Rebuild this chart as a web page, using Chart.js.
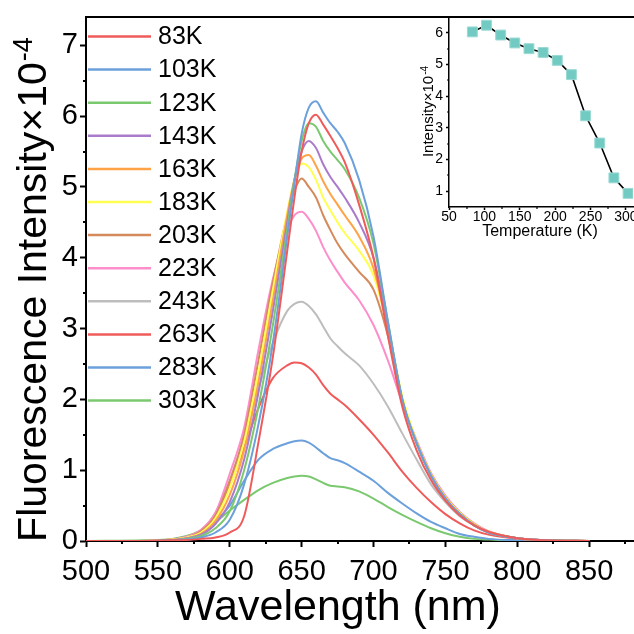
<!DOCTYPE html>
<html>
<head>
<meta charset="utf-8">
<script src="https://cdn.jsdelivr.net/npm/chart.js@4.4.1/dist/chart.umd.min.js"></script>
<style>
  html, body { margin: 0; padding: 0; background: #fff; overflow: hidden; width: 634px; height: 634px; }
  #wrap { position: relative; width: 680px; height: 634px; }
  #main { position: absolute; left: 0; top: 0; }
  #inset { position: absolute; left: 400px; top: 0; }
</style>
</head>
<body>
<div id="wrap">
  <canvas id="main" width="680" height="634"></canvas>
  <canvas id="inset" width="270" height="250"></canvas>
</div>
<script>
// wavelength grid (nm)
const wavelengths = [500, 540, 560, 570, 580, 590, 600, 610, 620, 630, 640, 645, 650, 655, 660, 665, 670, 675, 680, 690, 700, 710, 720, 730, 740, 750, 760, 770, 780, 800, 820, 850];

// spectra, intensity x10^-4
const s83K  = [0, 0, 0.01, 0.015, 0.03, 0.05, 0.12, 0.35, 1.4, 2.6, 4.1, 4.85, 5.5, 5.9, 6.02, 5.88, 5.72, 5.55, 5.35, 4.75, 4.0, 2.9, 1.9, 1.28, 0.86, 0.57, 0.36, 0.22, 0.13, 0.04, 0.01, 0];
const s103K = [0, 0, 0.01, 0.02, 0.05, 0.12, 0.3, 0.8, 1.65, 2.8, 4.3, 5.05, 5.75, 6.12, 6.21, 6.05, 5.9, 5.78, 5.62, 5.1, 4.3, 3.1, 2.0, 1.38, 0.92, 0.6, 0.38, 0.22, 0.12, 0.04, 0.01, 0];
const s123K = [0, 0, 0.01, 0.03, 0.07, 0.18, 0.42, 1.0, 1.9, 3.05, 4.4, 5.1, 5.65, 5.9, 5.85, 5.65, 5.5, 5.38, 5.25, 4.85, 4.2, 3.1, 2.0, 1.38, 0.92, 0.6, 0.38, 0.22, 0.12, 0.04, 0.01, 0];
const s143K = [0, 0, 0.015, 0.04, 0.09, 0.24, 0.55, 1.15, 2.1, 3.25, 4.5, 5.1, 5.5, 5.65, 5.55, 5.32, 5.14, 5.0, 4.85, 4.5, 4.0, 3.05, 2.0, 1.38, 0.92, 0.6, 0.38, 0.22, 0.12, 0.04, 0.01, 0];
const s163K = [0, 0, 0.015, 0.04, 0.1, 0.28, 0.65, 1.28, 2.25, 3.4, 4.6, 5.1, 5.4, 5.45, 5.3, 5.08, 4.9, 4.75, 4.6, 4.3, 3.85, 3.0, 2.0, 1.38, 0.93, 0.61, 0.39, 0.23, 0.13, 0.04, 0.01, 0];
const s183K = [0, 0, 0.02, 0.05, 0.12, 0.32, 0.75, 1.4, 2.4, 3.55, 4.65, 5.1, 5.33, 5.28, 5.1, 4.85, 4.67, 4.5, 4.35, 4.1, 3.75, 3.0, 2.05, 1.4, 0.94, 0.62, 0.4, 0.24, 0.13, 0.04, 0.01, 0];
const s203K = [0, 0, 0.02, 0.05, 0.14, 0.36, 0.85, 1.5, 2.55, 3.65, 4.6, 4.95, 5.12, 5.0, 4.85, 4.6, 4.39, 4.2, 4.05, 3.8, 3.55, 2.9, 2.0, 1.4, 0.94, 0.62, 0.4, 0.24, 0.13, 0.04, 0.01, 0];
const s223K = [0, 0, 0.02, 0.06, 0.16, 0.4, 0.95, 1.6, 2.7, 3.7, 4.4, 4.6, 4.65, 4.55, 4.38, 4.15, 3.96, 3.8, 3.65, 3.4, 3.05, 2.55, 1.95, 1.42, 0.96, 0.64, 0.41, 0.25, 0.14, 0.04, 0.01, 0];
const s243K = [0, 0, 0.02, 0.06, 0.15, 0.4, 0.85, 1.45, 2.15, 2.8, 3.25, 3.35, 3.38, 3.32, 3.2, 3.03, 2.86, 2.75, 2.65, 2.48, 2.22, 1.9, 1.52, 1.15, 0.8, 0.55, 0.35, 0.22, 0.13, 0.04, 0.01, 0];
const s263K = [0, 0, 0.02, 0.06, 0.15, 0.38, 0.78, 1.32, 1.88, 2.3, 2.48, 2.52, 2.51, 2.45, 2.35, 2.2, 2.08, 2.0, 1.92, 1.72, 1.5, 1.25, 0.98, 0.75, 0.55, 0.38, 0.25, 0.15, 0.09, 0.03, 0.01, 0];
const s283K = [0, 0, 0.02, 0.06, 0.14, 0.28, 0.5, 0.85, 1.15, 1.3, 1.38, 1.41, 1.42, 1.39, 1.32, 1.24, 1.17, 1.14, 1.1, 0.98, 0.85, 0.68, 0.53, 0.39, 0.27, 0.18, 0.1, 0.06, 0.03, 0.01, 0, 0];
const s303K = [0, 0.01, 0.03, 0.07, 0.15, 0.27, 0.43, 0.58, 0.72, 0.82, 0.89, 0.91, 0.92, 0.91, 0.87, 0.82, 0.78, 0.77, 0.76, 0.7, 0.6, 0.48, 0.37, 0.27, 0.18, 0.11, 0.06, 0.03, 0.02, 0.005, 0, 0];

const seriesLabels = ['83K', '103K', '123K', '143K', '163K', '183K', '203K', '223K', '243K', '263K', '283K', '303K'];
const seriesData = [s83K, s103K, s123K, s143K, s163K, s183K, s203K, s223K, s243K, s263K, s283K, s303K];
const seriesColors = ['#ef5b5b', '#6ca0dc', '#7bc96f', '#ab7bcb', '#ffa347', '#ffff52', '#d58a5c', '#fd8ecb', '#bdbdbd', '#ef5b5b', '#6ca0dc', '#7bc96f'];

const xTicks = [500, 550, 600, 650, 700, 750, 800, 850];
const xMinor = [525, 575, 625, 675, 725, 775, 825, 875];
const yTicks = [0, 1, 2, 3, 4, 5, 6, 7];
const yMinor = [0.5, 1.5, 2.5, 3.5, 4.5, 5.5, 6.5];

// inset: integrated intensity vs temperature
const temps = [83, 103, 123, 143, 163, 183, 203, 223, 243, 263, 283, 303];
const intensities = [6.03, 6.24, 5.93, 5.68, 5.5, 5.38, 5.13, 4.68, 3.38, 2.52, 1.42, 0.93];
const insetXTicks = [50, 100, 150, 200, 250, 300];
const insetXMinor = [75, 125, 175, 225, 275];
const insetYTicks = [1, 2, 3, 4, 5, 6];
const insetYMinor = [1.5, 2.5, 3.5, 4.5, 5.5];

const FONT = '"Liberation Sans", Arial, sans-serif';
Chart.defaults.font.family = FONT;
Chart.defaults.color = '#000';

// frame, minor ticks, axis titles (with superscript) and in-plot legend
const deco = {
  id: 'deco',
  afterDraw(chart, args, o) {
    const { ctx, chartArea: a, scales } = chart;
    ctx.save();
    ctx.strokeStyle = '#000';
    ctx.lineWidth = o.frameWidth;
    ctx.beginPath();
    ctx.moveTo(a.left, a.top);
    ctx.lineTo(a.right, a.top);
    if (o.rightEdge) ctx.lineTo(a.right, a.bottom);
    ctx.stroke();

    ctx.lineWidth = o.tickWidth;
    ctx.beginPath();
    o.minorX.forEach(v => {
      const px = Math.round(scales.x.getPixelForValue(v));
      ctx.moveTo(px, a.bottom);
      ctx.lineTo(px, a.bottom + o.minorLen);
    });
    o.minorY.forEach(v => {
      const py = Math.round(scales.y.getPixelForValue(v));
      ctx.moveTo(a.left, py);
      ctx.lineTo(a.left - o.minorLen, py);
    });
    ctx.stroke();

    ctx.fillStyle = '#000';
    const xt = o.xTitle;
    ctx.font = xt.size + 'px ' + FONT;
    ctx.textAlign = 'center';
    ctx.textBaseline = 'alphabetic';
    ctx.fillText(xt.text, xt.x, xt.y);

    const yt = o.yTitle;
    ctx.translate(yt.x, yt.y);
    ctx.rotate(-Math.PI / 2);
    ctx.font = yt.size + 'px ' + FONT;
    const w1 = ctx.measureText(yt.text).width;
    const supSize = Math.round(yt.size * 0.65);
    ctx.font = supSize + 'px ' + FONT;
    const w2 = ctx.measureText(yt.sup).width;
    const start = -(w1 + w2) / 2;
    ctx.textAlign = 'left';
    ctx.fillText(yt.sup, start + w1 + 1, -yt.size * 0.33);
    ctx.font = yt.size + 'px ' + FONT;
    ctx.fillText(yt.text, start, 0);
    ctx.restore();

    if (o.legend) {
      const lg = o.legend;
      ctx.save();
      ctx.font = lg.size + 'px ' + FONT;
      ctx.textAlign = 'left';
      ctx.textBaseline = 'middle';
      chart.data.datasets.forEach((ds, i) => {
        const y = lg.top + i * lg.step;
        ctx.strokeStyle = ds.borderColor;
        ctx.lineWidth = 2.5;
        ctx.beginPath();
        ctx.moveTo(lg.x0, y);
        ctx.lineTo(lg.x1, y);
        ctx.stroke();
        ctx.fillStyle = '#000';
        ctx.fillText(ds.label, lg.textX, y + 1);
      });
      ctx.restore();
    }
  }
};

function fixedAxis(size, vertical) {
  return s => {
    if (vertical) s.width = size; else s.height = size;
    s.paddingTop = 0; s.paddingBottom = 0; s.paddingLeft = 0; s.paddingRight = 0;
  };
}

new Chart(document.getElementById('main'), {
  type: 'line',
  data: {
    datasets: seriesLabels.map((label, i) => ({
      label: label,
      data: wavelengths.map((w, j) => ({ x: w, y: seriesData[i][j] })),
      borderColor: seriesColors[i],
      borderWidth: 2,
      pointRadius: 0,
      fill: false,
      cubicInterpolationMode: 'monotone'
    }))
  },
  options: {
    responsive: false,
    animation: false,
    devicePixelRatio: 1,
    layout: { padding: { top: 17, right: 19, left: 0, bottom: 0 } },
    scales: {
      x: {
        type: 'linear', min: 500, max: 900,
        afterBuildTicks: s => { s.ticks = xTicks.map(v => ({ value: v })); },
        afterFit: fixedAxis(93, false),
        grid: { drawOnChartArea: false, drawTicks: true, tickLength: 6, tickColor: '#000', tickWidth: 2 },
        border: { display: true, color: '#000', width: 2 },
        ticks: { font: { size: 29 }, color: '#000', padding: 8, maxRotation: 0, autoSkip: false }
      },
      y: {
        type: 'linear', min: 0, max: 7.4,
        afterBuildTicks: s => { s.ticks = yTicks.map(v => ({ value: v })); },
        afterFit: fixedAxis(86, true),
        grid: { drawOnChartArea: false, drawTicks: true, tickLength: 6, tickColor: '#000', tickWidth: 2 },
        border: { display: true, color: '#000', width: 2 },
        ticks: { font: { size: 29 }, color: '#000', padding: 2 }
      }
    },
    plugins: {
      legend: { display: false },
      tooltip: { enabled: false },
      deco: {
        frameWidth: 2, tickWidth: 2, minorLen: 3, rightEdge: true,
        minorX: xMinor, minorY: yMinor,
        xTitle: { text: 'Wavelength (nm)', x: 338, y: 620, size: 43 },
        yTitle: { text: 'Fluorescence Intensity\u00d710', sup: '-4', x: 46, y: 290, size: 41 },
        legend: { top: 36.5, step: 33.1, x0: 88, x1: 151, textX: 158, size: 25 }
      }
    }
  },
  plugins: [deco]
});

new Chart(document.getElementById('inset'), {
  type: 'line',
  data: {
    datasets: [{
      label: 'Intensity',
      data: temps.map((t, i) => ({ x: t, y: intensities[i] })),
      borderColor: '#000',
      borderWidth: 1.6,
      pointStyle: 'rect',
      pointRadius: 7,
      pointBackgroundColor: '#72cbc3',
      pointBorderColor: '#9bdad4',
      pointBorderWidth: 1,
      tension: 0
    }]
  },
  options: {
    responsive: false,
    animation: false,
    devicePixelRatio: 1,
    layout: { padding: { top: 17, right: 37, left: 0, bottom: 0 } },
    scales: {
      x: {
        type: 'linear', min: 50, max: 310,
        afterBuildTicks: s => { s.ticks = insetXTicks.map(v => ({ value: v })); },
        afterFit: fixedAxis(43, false),
        grid: { drawOnChartArea: false, drawTicks: true, tickLength: 3, tickColor: '#000', tickWidth: 1.5 },
        border: { display: true, color: '#000', width: 1.5 },
        ticks: { font: { size: 14, lineHeight: 1 }, color: '#000', padding: 0, maxRotation: 0, autoSkip: false }
      },
      y: {
        type: 'linear', min: 0.5, max: 6.5,
        afterBuildTicks: s => { s.ticks = insetYTicks.map(v => ({ value: v })); },
        afterFit: fixedAxis(49, true),
        grid: { drawOnChartArea: false, drawTicks: true, tickLength: 3, tickColor: '#000', tickWidth: 1.5 },
        border: { display: true, color: '#000', width: 1.5 },
        ticks: { font: { size: 14 }, color: '#000', padding: 3 }
      }
    },
    plugins: {
      legend: { display: false },
      tooltip: { enabled: false },
      deco: {
        frameWidth: 1.5, tickWidth: 1.2, minorLen: 2, rightEdge: false,
        minorX: insetXMinor, minorY: insetYMinor,
        xTitle: { text: 'Temperature (K)', x: 140, y: 236, size: 16 },
        yTitle: { text: 'Intensity\u00d710', sup: '-4', x: 33, y: 112, size: 15 }
      }
    }
  },
  plugins: [deco]
});
</script>
</body>
</html>
